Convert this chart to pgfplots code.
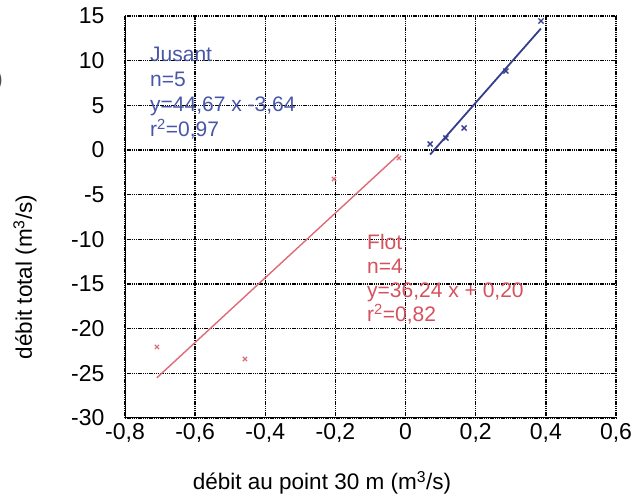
\documentclass[border=0pt]{standalone}
\usepackage{fontspec}
\setmainfont{Liberation Sans}
\usepackage{pgfplots}
\pgfplotsset{compat=1.18}

\definecolor{jusantline}{RGB}{52,62,140}
\definecolor{jusanttext}{RGB}{72,86,168}
\definecolor{flotline}{RGB}{222,108,118}
\definecolor{flottext}{RGB}{212,82,94}

\newcommand{\tickfont}{\fontsize{23}{27}\selectfont}
\newcommand{\labfont}{\fontsize{22.5}{27}\selectfont}
\newcommand{\notefont}{\fontsize{21}{24}\selectfont}

\begin{document}
\begin{tikzpicture}[x=1pt,y=1pt]
\begin{axis}[
  at={(125pt,79pt)}, anchor=south west,
  scale only axis, width=491pt, height=402pt,
  xmin=-0.8, xmax=0.6, ymin=-30, ymax=15,
  xtick={-0.8,-0.6,-0.4,-0.2,0,0.2,0.4,0.6},
  xticklabels={{-0,8},{-0,6},{-0,4},{-0,2},0,{0,2},{0,4},{0,6}},
  ytick={-30,-25,-20,-15,-10,-5,0,5,10,15},
  yticklabels={-30,-25,-20,-15,-10,-5,0,5,10,15},
  axis x line*=bottom, axis y line*=left,
  axis line style={-, black, line width=1pt},
  major tick length=0pt,
  xmajorgrids=true, ymajorgrids=true,
  major grid style={black, line width=1.3pt, dash pattern=on 1.3pt off 0.9pt},
  xticklabel style={font=\tickfont, yshift=-2pt},
  yticklabel style={font=\tickfont, xshift=-17pt},
  clip=false,
]
% Jusant (ebb) measurements and regression line
\addplot[only marks, mark=x, mark size=3.6pt, jusantline, line width=1.3pt]
  coordinates {(0.070,0.67) (0.115,1.34) (0.167,2.46) (0.286,8.84) (0.386,14.44)};
\addplot[jusantline, line width=1.8pt]
  coordinates {(0.070,-0.513) (0.386,13.602)};
% Flot (flood) measurements and regression line
\addplot[only marks, mark=x, mark size=3pt, flotline, line width=1.2pt]
  coordinates {(-0.709,-22.05) (-0.458,-23.4) (-0.204,-3.25) (-0.019,-0.9)};
\addplot[flotline, line width=1.4pt]
  coordinates {(-0.709,-25.494) (-0.019,-0.489)};
\end{axis}

% regression summaries
\begin{scope}[every node/.style={anchor=base west, inner sep=0pt, font=\notefont}]
  \node[text=jusanttext] at (150,435) {Jusant};
  \node[text=jusanttext] at (150,410) {n=5};
  \node[text=jusanttext] at (150,385) {y=44,67 x -3,64};
  \node[text=jusanttext] at (150,360) {r\textsuperscript{2}=0,97};
  \node[text=flottext] at (367,247) {Flot};
  \node[text=flottext] at (367,223) {n=4};
  \node[text=flottext] at (367,199) {y=36,24 x + 0,20};
  \node[text=flottext] at (367,175) {r\textsuperscript{2}=0,82};
\end{scope}

% axis titles
\node[font=\labfont, rotate=90] at (25,220) {débit total (m\textsuperscript{3}/s)};
\node[font=\labfont] at (322,14) {débit au point 30 m (m\textsuperscript{3}/s)};

% panel letter cut by the page edge
\node[font=\labfont, text=black!70, anchor=east, inner sep=0pt] at (3,416) {)};

\pgfresetboundingbox
\useasboundingbox (0,0) rectangle (640,497);
\end{tikzpicture}
\end{document}
